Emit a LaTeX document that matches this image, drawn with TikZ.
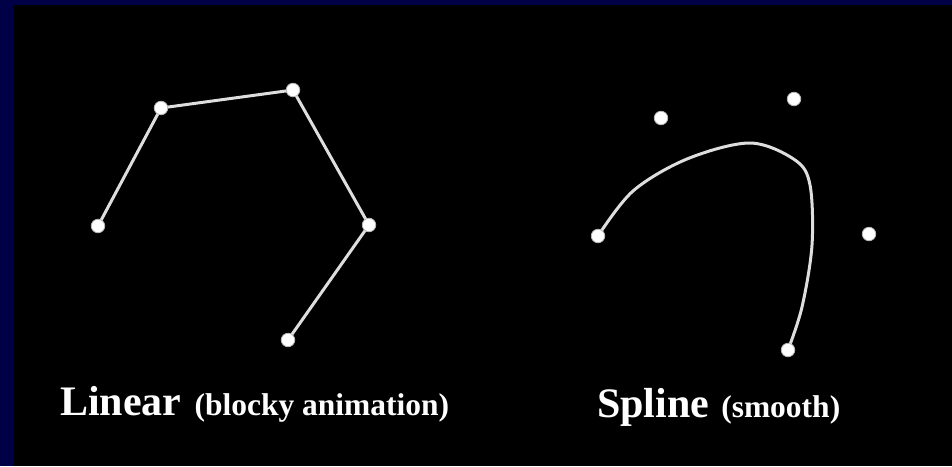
\documentclass[tikz,border=0pt]{standalone}
\usepackage{fontspec}
\setmainfont{Liberation Serif}
\pgfdeclarelayer{bg}
\pgfdeclarelayer{lines}
\pgfsetlayers{bg,lines,main}
\definecolor{navy}{RGB}{0,0,70}
\definecolor{linecol}{RGB}{222,222,222}
\tikzset{
  dot/.style={circle, inner sep=0pt, minimum size=13.5pt, fill=white, draw=gray!55, line width=0.8pt},
  link/.style={draw=linecol, line width=3pt, line cap=round, line join=round},
  bigtext/.style={text=white, font=\bfseries, anchor=base west, inner sep=0pt}
}
\begin{document}
\begin{tikzpicture}[x=1pt,y=-1pt]
\begin{pgfonlayer}{bg}
  \fill[navy] (0,0) rectangle (952,466);
  \fill[black] (14,5) rectangle (952,466);
\end{pgfonlayer}
\useasboundingbox (0,0) rectangle (952,466);
% linear
\node[dot] (l1) at (98,226) {};
\node[dot] (l2) at (161,108) {};
\node[dot] (l3) at (293,90) {};
\node[dot] (l4) at (369,225) {};
\node[dot] (l5) at (288,340) {};
% spline control points
\node[dot] (s1) at (598,236) {};
\node[dot] (s2) at (661,118) {};
\node[dot] (s3) at (794,99) {};
\node[dot] (s4) at (869,234) {};
\node[dot] (s5) at (788,350) {};
\begin{pgfonlayer}{lines}
  \draw[link] (l1.center) -- (l2.center) -- (l3.center) -- (l4.center) -- (l5.center);
  \draw[link] plot[smooth, tension=0.55] coordinates {(s1.center) (633,191) (687,159) (750,143) (795,160) (810,185) (812,245) (802,307) (s5.center)};
\end{pgfonlayer}
% labels
\node[bigtext] (tl) at (60,415) {\fontsize{42}{48}\selectfont Linear\hspace{13pt}\fontsize{31.5}{36}\selectfont (blocky animation)};
\node[bigtext] (ts) at (597,417) {\fontsize{42}{48}\selectfont Spline\hspace{12pt}\fontsize{31.5}{36}\selectfont (smooth)};
\end{tikzpicture}
\end{document}
